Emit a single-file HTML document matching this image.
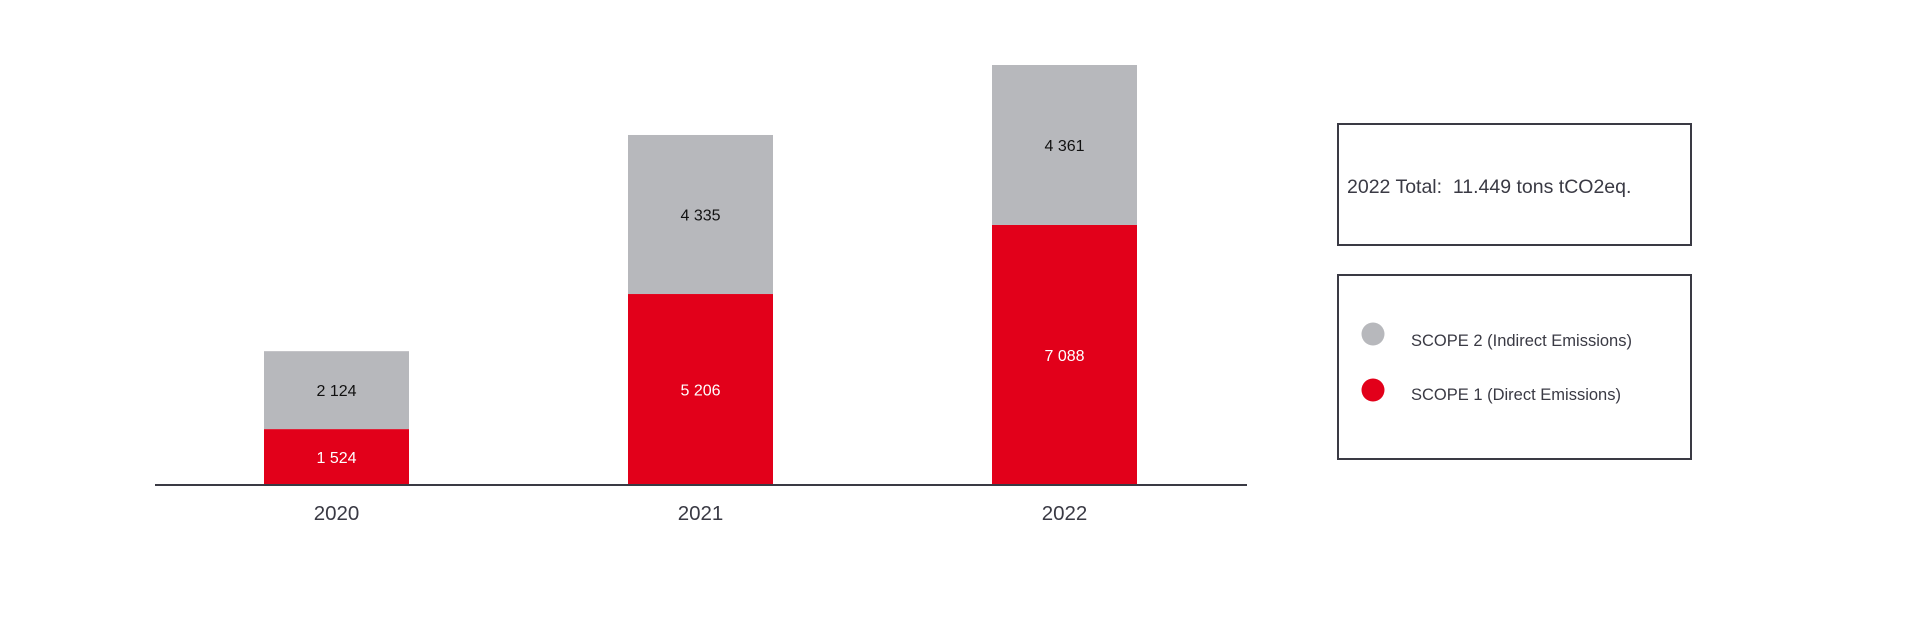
<!DOCTYPE html>
<html><head><meta charset="utf-8"><style>
html,body{margin:0;padding:0;background:#fff;}
svg{display:block;font-family:"Liberation Sans",Arial,sans-serif;}
</style></head><body>
<svg id="chart" width="1920" height="633" viewBox="0 0 1920 633">
<g id="bars"></g>
<line x1="155" y1="485" x2="1247" y2="485" stroke="#3a3a44" stroke-width="2"/>
<g id="xlabels"></g>
<rect x="1338" y="124" width="353" height="121" fill="none" stroke="#3a3a44" stroke-width="2"/>
<text x="1347" y="193" font-size="19.5" fill="#3a3a44" xml:space="preserve">2022 Total:  11.449 tons tCO2eq.</text>
<rect x="1338" y="275" width="353" height="184" fill="none" stroke="#3a3a44" stroke-width="2"/>
<g>
<circle cx="1373" cy="334" r="11.5" fill="#b7b8bc"/>
<text x="1411" y="346" font-size="16.5" fill="#3a3a44">SCOPE 2 (Indirect Emissions)</text>
</g>
<g>
<circle cx="1373" cy="390" r="11.5" fill="#e2001a"/>
<text x="1411" y="400" font-size="16.5" fill="#3a3a44">SCOPE 1 (Direct Emissions)</text>
</g>
</svg>
<script>
const categories = ["2020", "2021", "2022"];
const scope1 = [1524, 5206, 7088];
const scope2 = [2124, 4335, 4361];
const scope1Labels = ["1 524", "5 206", "7 088"];
const scope2Labels = ["2 124", "4 335", "4 361"];

const NS = "http://www.w3.org/2000/svg";
const baseY = 485, pxPerUnit = 420 / 11449;
const firstCenter = 336.5, step = 364, barW = 145;
function xCenter(i){ return firstCenter + i * step; }
function yScale(v){ return baseY - v * pxPerUnit; }
const gBars = document.getElementById('bars');
const gX = document.getElementById('xlabels');
function mk(tag, attrs){ const e = document.createElementNS(NS, tag); for (const k in attrs) e.setAttribute(k, attrs[k]); return e; }
categories.forEach((c, i) => {
  const cx = xCenter(i);
  const y1 = yScale(scope1[i]);
  const y2 = yScale(scope1[i] + scope2[i]);
  const r1 = mk('rect', {x: cx - barW/2, y: y1, width: barW, height: baseY - y1, fill: '#e2001a'});
  
  
  gBars.appendChild(r1);
  const r2 = mk('rect', {x: cx - barW/2, y: y2, width: barW, height: y1 - y2, fill: '#b7b8bc'});
  
  
  gBars.appendChild(r2);
  const t1 = mk('text', {x: cx, y: (y1 + baseY)/2 + 6, 'text-anchor': 'middle', 'font-size': 16, fill: '#fff'});
  t1.textContent = scope1Labels[i];
  
  
  gBars.appendChild(t1);
  const t2 = mk('text', {x: cx, y: (y1 + y2)/2 + 6, 'text-anchor': 'middle', 'font-size': 16, fill: '#111'});
  t2.textContent = scope2Labels[i];
  
  
  gBars.appendChild(t2);
  const xl = mk('text', {x: cx, y: 520, 'text-anchor': 'middle', 'font-size': 20.5, fill: '#3a3a44'});
  xl.textContent = c;
  
  
  gX.appendChild(xl);
});
</script>
</body></html>
